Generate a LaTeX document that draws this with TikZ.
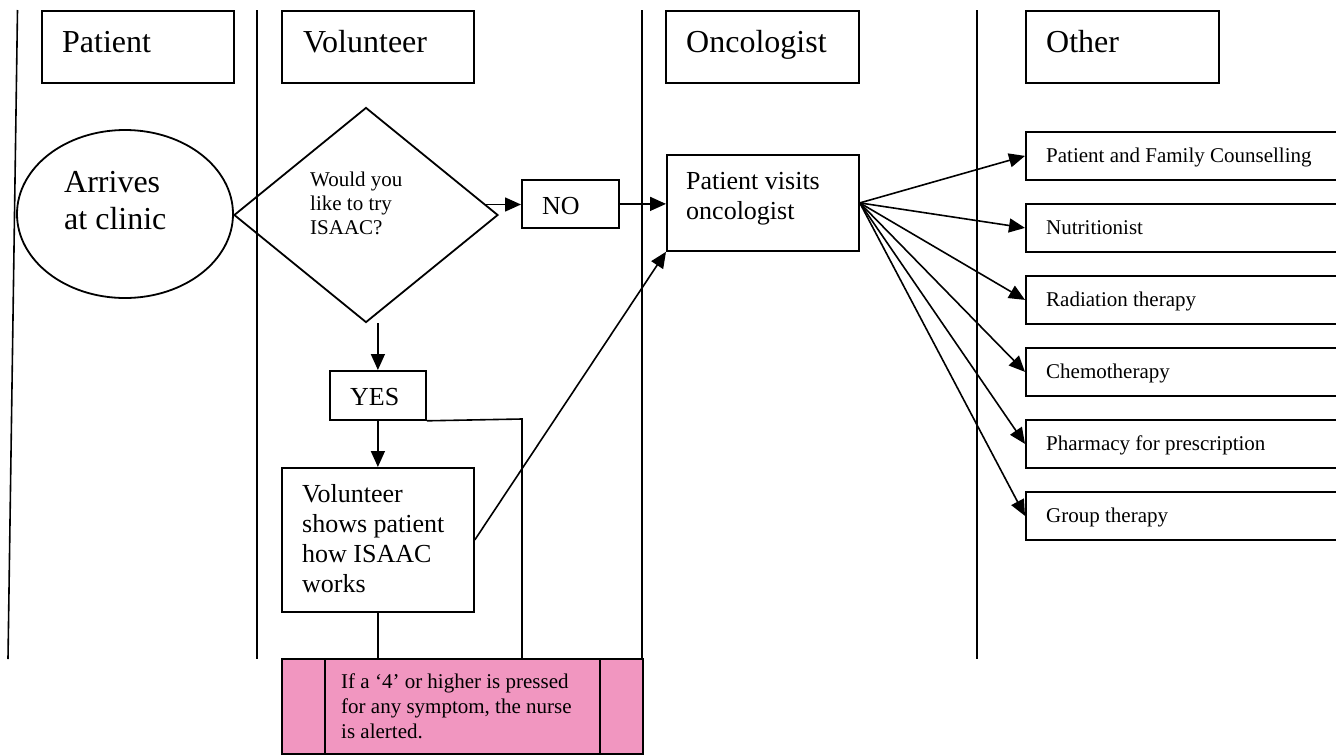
\documentclass[tikz,border=0pt]{standalone}
\usepackage{fontspec}
\setmainfont{Liberation Serif}
\usetikzlibrary{arrows.meta,shapes.geometric,calc}
\definecolor{pinkfill}{RGB}{241,150,192}
\begin{document}
\begin{tikzpicture}[x=1pt,y=-1pt,
  box/.style={draw, line width=1.8pt, inner sep=0pt, anchor=north west},
  lane/.style={line width=1.6pt},
  arr/.style={line width=1.6pt, -{Triangle[length=16pt,width=14pt]}},
  link/.style={line width=1.6pt},
  big/.style={font=\fontsize{32}{37}\selectfont, inner sep=0pt, align=left},
  mid/.style={font=\fontsize{26}{30}\selectfont, inner sep=0pt, align=left},
  small/.style={font=\fontsize{21}{24}\selectfont, inner sep=0pt, align=left}]
\useasboundingbox (0,0) rectangle (1336,755);
\clip (0,0) rectangle (1336,755);
\fill[white] (0,0) rectangle (1336,755);

% lanes
\draw[lane] (17.5,10) -- (8,659);
\draw[lane] (257,10) -- (257,659);
\draw[lane] (642,10) -- (642,658);
\draw[lane] (977,10) -- (977,659);

% headers
\node[box, minimum width=192pt, minimum height=72pt] (hpat) at (41,10) {};
\node[big, anchor=base west] (thpat) at (62,52) {Patient};
\node[box, minimum width=192pt, minimum height=72pt] (hvol) at (281,10) {};
\node[big, anchor=base west] (thvol) at (303,52) {Volunteer};
\node[box, minimum width=193pt, minimum height=72pt] (honc) at (665,10) {};
\node[big, anchor=base west] (thonc) at (686,52) {Oncologist};
\node[box, minimum width=193pt, minimum height=72pt] (hoth) at (1025,10) {};
\node[big, anchor=base west] (thoth) at (1046,52) {Other};

% patient lane
\node[draw, ellipse, line width=1.8pt, inner sep=0pt, minimum width=216pt, minimum height=168pt] (arr) at (125,214) {};
\node[big, anchor=north west] (tarr) at (64,171) {Arrives\\at clinic};

% volunteer lane
\node[draw, diamond, line width=1.8pt, inner sep=0pt, minimum width=264pt, minimum height=215pt] (dia) at (366,215) {};
\node[small, anchor=north west] (tdia) at (310,171.5) {Would you\\like to try\\ISAAC?};

\node[box, minimum width=97pt, minimum height=48pt] (no) at (521,179) {};
\node[mid, anchor=base west] (tno) at (542,214) {NO};

\node[box, minimum width=96pt, minimum height=49pt] (yes) at (329,370) {};
\node[mid, anchor=base west] (tyes) at (350,405) {YES};

\node[box, minimum width=192pt, minimum height=144pt] (vol) at (281,467) {};
\node[mid, anchor=north west] (tvol) at (302,484) {Volunteer\\shows patient\\how ISAAC\\works};

% pink box
\node[box, fill=pinkfill, minimum width=361pt, minimum height=95pt] (pink) at (281,658) {};
\draw[line width=1.8pt] ($(pink.north west)+(44,0)$) -- ($(pink.south west)+(44,0)$);
\draw[line width=1.8pt] ($(pink.north east)+(-44,0)$) -- ($(pink.south east)+(-44,0)$);
\node[small, anchor=north west, font=\fontsize{21}{25}\selectfont] (tpink) at (341,673.5) {If a ‘4’ or higher is pressed\\for any symptom, the nurse\\is alerted.};

% oncologist lane
\node[box, minimum width=192pt, minimum height=96pt] (onc) at (666,154) {};
\node[mid, anchor=north west] (tonc) at (686,172) {Patient visits\\oncologist};

% other lane
\node[box, minimum width=330pt, minimum height=48pt] (r1) at (1025,131) {};
\node[small, anchor=base west] (tr1) at (1046,162) {Patient and Family Counselling};
\node[box, minimum width=330pt, minimum height=48pt] (r2) at (1025,203) {};
\node[small, anchor=base west] (tr2) at (1046,234) {Nutritionist};
\node[box, minimum width=330pt, minimum height=48pt] (r3) at (1025,275) {};
\node[small, anchor=base west] (tr3) at (1046,306) {Radiation therapy};
\node[box, minimum width=330pt, minimum height=48pt] (r4) at (1025,347) {};
\node[small, anchor=base west] (tr4) at (1046,378) {Chemotherapy};
\node[box, minimum width=330pt, minimum height=48pt] (r5) at (1025,419) {};
\node[small, anchor=base west] (tr5) at (1046,450) {Pharmacy for prescription};
\node[box, minimum width=330pt, minimum height=48pt] (r6) at (1025,491) {};
\node[small, anchor=base west] (tr6) at (1046,522) {Group therapy};

% connectors
\coordinate (c1) at (522,419);
\draw[arr] (dia.5.9) -- (dia.5.9 -| no.west);
\draw[arr] (no.east) -- (no.east -| onc.west);
\draw[arr] (yes.north |- dia.south) -- (yes.north);
\draw[arr] (yes.south) -- (vol.north);
\draw[link] (yes.south east) -- (c1) -- (c1 |- pink.north);
\draw[link] (vol.south) -- (vol.south |- pink.north);
\draw[arr] (vol.east) -- (onc.south west);
\foreach \r in {r1,r2,r3,r4,r5,r6}
  \draw[arr] (onc.east) -- (\r.west);
\end{tikzpicture}
\end{document}
